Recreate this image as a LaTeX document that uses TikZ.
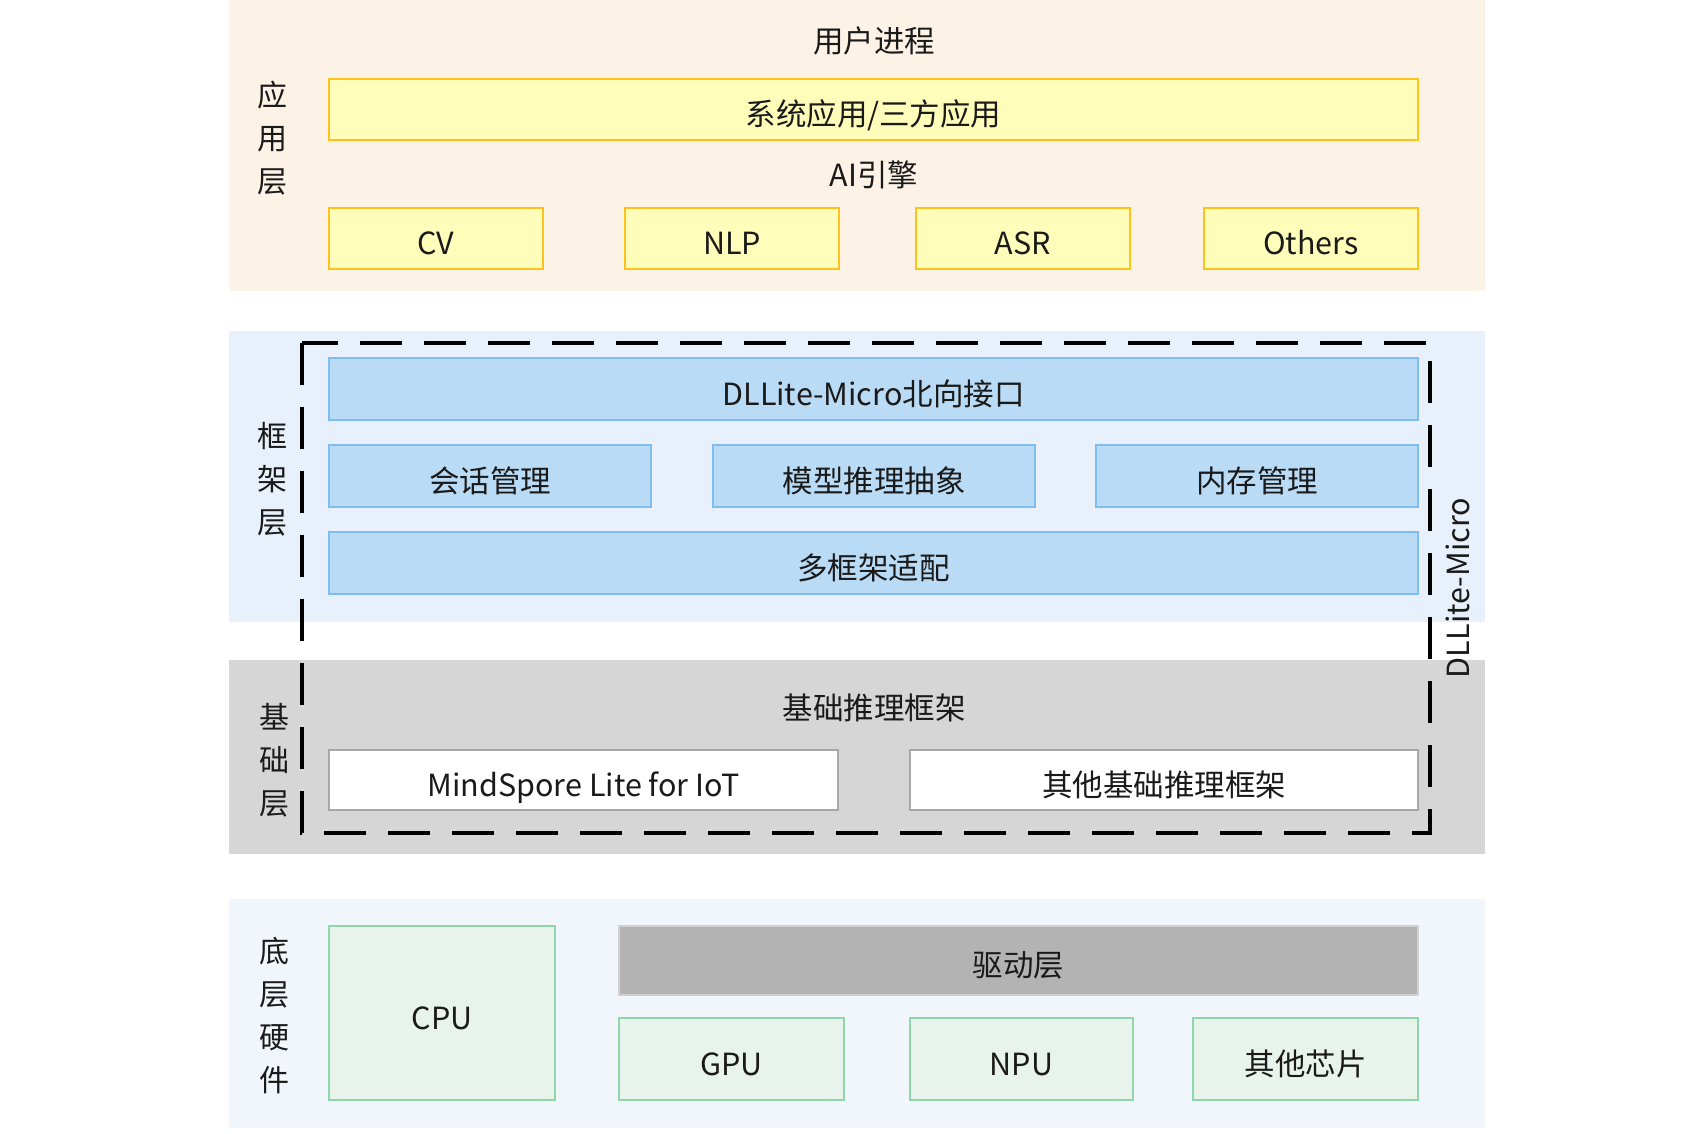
\documentclass[tikz,border=0pt]{standalone}
\usepackage{fontspec}
\setmainfont{Noto Sans CJK SC}
\usepackage{tikz}
\usetikzlibrary{positioning}

\definecolor{appbg}{HTML}{FDF2E6}
\definecolor{appfill}{HTML}{FFFDBA}
\definecolor{appline}{HTML}{FFC21A}
\definecolor{fwbg}{HTML}{E8F1FB}
\definecolor{fwfill}{HTML}{BADBF5}
\definecolor{fwline}{HTML}{7EBDF0}
\definecolor{basebg}{HTML}{D6D6D6}
\definecolor{baseline}{HTML}{A8A8A8}
\definecolor{hwbg}{HTML}{F1F6FD}
\definecolor{hwfill}{HTML}{E7F3EB}
\definecolor{hwline}{HTML}{8FD6A9}
\definecolor{drvfill}{HTML}{B3B3B3}
\definecolor{txt}{HTML}{1A1A1A}

\begin{document}
\begin{tikzpicture}[x=1pt, y=-1pt,
    every node/.style={font=\fontsize{30.5}{36}\selectfont, text=txt},
    boxtext/.style={text height=32pt, text depth=0pt},
    appbox/.style={boxtext, draw=appline, fill=appfill, line width=2pt, rectangle, inner sep=0pt, minimum height=61pt},
    fwbox/.style={boxtext, draw=fwline, fill=fwfill, line width=2pt, rectangle, inner sep=0pt, minimum height=62pt},
    basebox/.style={boxtext, draw=baseline, fill=white, line width=2pt, rectangle, inner sep=0pt, minimum height=60pt},
    hwbox/.style={boxtext, draw=hwline, fill=hwfill, line width=2pt, rectangle, inner sep=0pt},
    drvbox/.style={boxtext, draw=black!18, fill=drvfill, line width=1.5pt, rectangle, inner sep=0pt},
    sidelabel/.style={align=center, font=\fontsize{30}{43}\selectfont}]
    \useasboundingbox (0,0) rectangle (1692,1134);

    % layer backgrounds
    \fill[appbg] (229,0) rectangle (1485,291);
    \fill[fwbg] (229,331) rectangle (1485,622);
    \fill[basebg] (229,660) rectangle (1485,854);
    \fill[hwbg] (229,899) rectangle (1485,1128);

    % application layer
    \node[sidelabel] (applbl) at (272,138) {应\\用\\层};
    \node (proc) at (874,41) {用户进程};
    \node[appbox, minimum width=1089pt] (sysapp) at (873.5,110) {系统应用/三方应用};
    \node (engine) at (874,175) {AI引擎};
    \node[appbox, minimum width=214pt] (cv) at (436,238.5) {CV};
    \node[appbox, minimum width=214pt] (nlp) at (732,238.5) {NLP};
    \node[appbox, minimum width=214pt] (asr) at (1022.5,238.5) {ASR};
    \node[appbox, minimum width=214pt] (others) at (1311,238.5) {Others};

    % framework layer
    \node[sidelabel] (fwlbl) at (272,479) {框\\架\\层};
    \node[fwbox, minimum width=1089pt] (north) at (873.5,389) {DLLite-Micro北向接口};
    \node[fwbox, minimum width=322pt] (session) at (490,476) {会话管理};
    \node[fwbox, minimum width=322pt] (model) at (874,476) {模型推理抽象};
    \node[fwbox, minimum width=322pt] (memory) at (1257,476) {内存管理};
    \node[fwbox, minimum width=1089pt] (adapt) at (873.5,563) {多框架适配};

    % base layer
    \node[sidelabel] (baselbl) at (274,760) {基\\础\\层};
    \node (infer) at (874,708) {基础推理框架};
    \node[basebox, minimum width=509pt] (mindspore) at (583.5,780) {MindSpore Lite for IoT};
    \node[basebox, minimum width=508pt] (otherfw) at (1164,780) {其他基础推理框架};

    % DLLite-Micro frame
    \draw[line width=4pt, dash pattern=on 42pt off 22pt] (302,343) rectangle (1430,833);
    \node[rotate=90] (dllite) at (1458,588) {DLLite-Micro};

    % hardware layer
    \node[sidelabel] (hwlbl) at (274,1016) {底\\层\\硬\\件};
    \node[hwbox, minimum width=226pt, minimum height=174pt] (cpu) at (442,1013) {CPU};
    \node[drvbox, minimum width=799pt, minimum height=69pt] (driver) at (1018.5,960.5) {驱动层};
    \node[hwbox, minimum width=225pt, minimum height=82pt] (gpu) at (731.5,1059) {GPU};
    \node[hwbox, minimum width=223pt, minimum height=82pt] (npu) at (1021.5,1059) {NPU};
    \node[hwbox, minimum width=225pt, minimum height=82pt] (chips) at (1305.5,1059) {其他芯片};
\end{tikzpicture}
\end{document}
